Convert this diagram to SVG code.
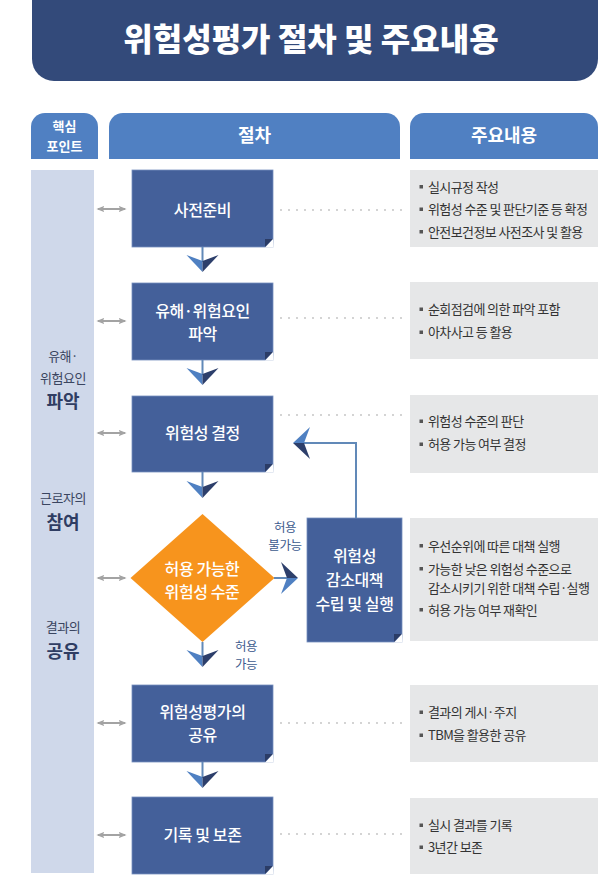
<svg xmlns="http://www.w3.org/2000/svg" width="613" height="888" viewBox="0 0 613 888">
<style>
text{font-family:"Noto Sans CJK KR","Noto Sans",sans-serif}
.title{fill:#fff;font-size:32px;font-weight:900;letter-spacing:0px;text-anchor:middle}
.hdr{fill:#fff;font-weight:700;text-anchor:middle}
.box{fill:#44609a;stroke:#7790bf;stroke-width:0.8}
.fold{fill:#2b3c66}
.bt{fill:#fff;font-size:16px;font-weight:500;letter-spacing:-0.4px;text-anchor:middle}
.info{fill:#e6e7e8}
.it{fill:#333;font-size:13px;letter-spacing:-0.6px}
.bul{fill:#555}
.side{fill:#3a4560;font-size:13px;text-anchor:middle;letter-spacing:-0.5px}
.sideb{fill:#2f3d63;font-size:18px;font-weight:700;text-anchor:middle}
.lbl{fill:#3d5b8e;font-size:12.5px;text-anchor:middle;letter-spacing:-0.4px}
.stem{stroke:#6189b8;stroke-width:2;fill:none}
.dots{stroke:#9a9a9a;stroke-width:1.6;stroke-linecap:round;stroke-dasharray:0 8;fill:none}
.grey{stroke:#a3a3a3;stroke-width:2;fill:none;marker-start:url(#ga);marker-end:url(#ga)}
</style>
<defs>
<marker id="ga" viewBox="0 0 10 8" refX="8" refY="4" markerWidth="4" markerHeight="3.6" orient="auto-start-reverse" markerUnits="strokeWidth">
<path d="M0,0 L10,4 L0,8 L2,4 Z" fill="#a3a3a3"/>
</marker>
<g id="ah">
<polygon points="-16,0 0,6 0,17" fill="#4f80c2"/>
<polygon points="16,0 0,6 0,17" fill="#2d3f6b"/>
</g>
</defs>

<g id="title">
<path d="M32,-30 H598 V59 A22,22 0 0 1 576,81 H54 A22,22 0 0 1 32,59 Z" fill="#334a7a"/>
<text class="title" x="311" y="51">위험성평가 절차 및 주요내용</text>
</g>

<g id="headers">
<path d="M31,159 V127 A14,14 0 0 1 45,113 H84 A14,14 0 0 1 98,127 V159 Z" fill="#5080c2"/>
<text class="hdr" x="64.5" y="131" font-size="13">핵심</text>
<text class="hdr" x="64.5" y="151" font-size="13">포인트</text>
<path d="M109,159 V127 A14,14 0 0 1 123,113 H386 A14,14 0 0 1 400,127 V159 Z" fill="#5080c2"/>
<text class="hdr" x="254.5" y="142" font-size="18">절차</text>
<path d="M410,159 V127 A14,14 0 0 1 424,113 H584 A14,14 0 0 1 598,127 V159 Z" fill="#5080c2"/>
<text class="hdr" x="504" y="142" font-size="18">주요내용</text>
</g>

<g id="keypoints">
<rect x="31" y="170" width="63" height="703" fill="#cfd8ea"/>
<text class="side" x="63" y="361">유해·</text>
<text class="side" x="63" y="383">위험요인</text>
<text class="sideb" x="63" y="408">파악</text>
<text class="side" x="63" y="503">근로자의</text>
<text class="sideb" x="63" y="529">참여</text>
<text class="side" x="63" y="632">결과의</text>
<text class="sideb" x="63" y="658">공유</text>
</g>

<g id="step1">
<rect class="box" x="132" y="170" width="141" height="77"/>
<polygon class="fold" points="265,239 273,239 265,247"/>
<polygon points="273,239 273.6,247.6 265,247.6" fill="#fff"/>
<text class="bt" x="202.5" y="216">사전준비</text>
</g>
<g id="step2">
<rect class="box" x="132" y="283" width="141" height="77"/>
<polygon class="fold" points="265,352 273,352 265,360"/>
<polygon points="273,352 273.6,360.6 265,360.6" fill="#fff"/>
<text class="bt" x="202.5" y="317">유해·위험요인</text>
<text class="bt" x="202.5" y="340">파악</text>
</g>
<g id="step3">
<rect class="box" x="132" y="396" width="141" height="76"/>
<polygon class="fold" points="265,464 273,464 265,472"/>
<polygon points="273,464 273.6,472.6 265,472.6" fill="#fff"/>
<text class="bt" x="202.5" y="439">위험성 결정</text>
</g>
<g id="decision">
<polygon points="202.5,514 274.5,578 202.5,642 130.5,578" fill="#f7941d"/>
<text class="bt" x="202" y="575">허용 가능한</text>
<text class="bt" x="202" y="598">위험성 수준</text>
</g>
<g id="reduce">
<rect class="box" x="307" y="518" width="95" height="124"/>
<polygon class="fold" points="394,634 402,634 394,642"/>
<polygon points="402,634 402.6,642.6 394,642.6" fill="#fff"/>
<text class="bt" x="354.5" y="562">위험성</text>
<text class="bt" x="354.5" y="586">감소대책</text>
<text class="bt" x="354.5" y="610">수립 및 실행</text>
</g>
<g id="step4">
<rect class="box" x="132" y="685" width="141" height="77"/>
<polygon class="fold" points="265,754 273,754 265,762"/>
<polygon points="273,754 273.6,762.6 265,762.6" fill="#fff"/>
<text class="bt" x="202.5" y="718">위험성평가의</text>
<text class="bt" x="202.5" y="741">공유</text>
</g>
<g id="step5">
<rect class="box" x="132" y="797" width="141" height="77"/>
<polygon class="fold" points="265,866 273,866 265,874"/>
<polygon points="273,866 273.6,874.6 265,874.6" fill="#fff"/>
<text class="bt" x="202.5" y="841">기록 및 보존</text>
</g>

<g id="info1">
<rect class="info" x="410" y="170" width="188" height="77"/>
<rect class="bul" x="419.5" y="185" width="3.5" height="3.5"/><text class="it" x="428" y="191.5">실시규정 작성</text>
<rect class="bul" x="419.5" y="207.5" width="3.5" height="3.5"/><text class="it" x="428" y="214">위험성 수준 및 판단기준 등 확정</text>
<rect class="bul" x="419.5" y="230" width="3.5" height="3.5"/><text class="it" x="428" y="236.5">안전보건정보 사전조사 및 활용</text>
</g>
<g id="info2">
<rect class="info" x="410" y="282" width="188" height="77"/>
<rect class="bul" x="419.5" y="307.5" width="3.5" height="3.5"/><text class="it" x="428" y="314">순회점검에 의한 파악 포함</text>
<rect class="bul" x="419.5" y="330.5" width="3.5" height="3.5"/><text class="it" x="428" y="337">아차사고 등 활용</text>
</g>
<g id="info3">
<rect class="info" x="410" y="395" width="188" height="78"/>
<rect class="bul" x="419.5" y="419.5" width="3.5" height="3.5"/><text class="it" x="428" y="426">위험성 수준의 판단</text>
<rect class="bul" x="419.5" y="442.5" width="3.5" height="3.5"/><text class="it" x="428" y="449">허용 가능 여부 결정</text>
</g>
<g id="info4">
<rect class="info" x="410" y="518" width="188" height="123"/>
<rect class="bul" x="419.5" y="544" width="3.5" height="3.5"/><text class="it" x="428" y="550.5">우선순위에 따른 대책 실행</text>
<rect class="bul" x="419.5" y="567" width="3.5" height="3.5"/><text class="it" x="428" y="573.5">가능한 낮은 위험성 수준으로</text>
<text class="it" x="428" y="592.5">감소시키기 위한 대책 수립·실행</text>
<rect class="bul" x="419.5" y="608" width="3.5" height="3.5"/><text class="it" x="428" y="614.5">허용 가능 여부 재확인</text>
</g>
<g id="info5">
<rect class="info" x="410" y="685" width="188" height="77"/>
<rect class="bul" x="419.5" y="710.5" width="3.5" height="3.5"/><text class="it" x="428" y="717">결과의 게시·주지</text>
<rect class="bul" x="419.5" y="733.5" width="3.5" height="3.5"/><text class="it" x="428" y="740">TBM을 활용한 공유</text>
</g>
<g id="info6">
<rect class="info" x="410" y="798" width="188" height="76"/>
<rect class="bul" x="419.5" y="823.5" width="3.5" height="3.5"/><text class="it" x="428" y="830">실시 결과를 기록</text>
<rect class="bul" x="419.5" y="845.5" width="3.5" height="3.5"/><text class="it" x="428" y="852">3년간 보존</text>
</g>

<g id="connectors">
<line class="stem" x1="202.5" y1="247" x2="202.5" y2="262"/>
<use href="#ah" x="202.5" y="255"/>
<line class="stem" x1="202.5" y1="360" x2="202.5" y2="375"/>
<use href="#ah" x="202.5" y="368"/>
<line class="stem" x1="202.5" y1="472" x2="202.5" y2="487"/>
<use href="#ah" x="202.5" y="481"/>
<line class="stem" x1="202.5" y1="642" x2="202.5" y2="657"/>
<use href="#ah" x="202.5" y="650"/>
<line class="stem" x1="202.5" y1="762" x2="202.5" y2="778"/>
<use href="#ah" x="202.5" y="771"/>
<line class="stem" x1="274" y1="578" x2="288" y2="578"/>
<use href="#ah" transform="translate(281,578) rotate(-90)"/>
<polyline class="stem" points="356,518 356,443 303,443"/>
<use href="#ah" transform="translate(310,443) rotate(90)"/>
<text class="lbl" x="285" y="532">허용</text>
<text class="lbl" x="285" y="550">불가능</text>
<text class="lbl" x="246" y="651">허용</text>
<text class="lbl" x="246" y="669">가능</text>
<line class="grey" x1="98" y1="209" x2="125" y2="209"/>
<line class="grey" x1="98" y1="321" x2="125" y2="321"/>
<line class="grey" x1="98" y1="433" x2="125" y2="433"/>
<line class="grey" x1="98" y1="578" x2="125" y2="578"/>
<line class="grey" x1="98" y1="723" x2="125" y2="723"/>
<line class="grey" x1="98" y1="835" x2="125" y2="835"/>
<line class="dots" x1="281" y1="210" x2="408" y2="210"/>
<line class="dots" x1="281" y1="318" x2="408" y2="318"/>
<line class="dots" x1="281" y1="415" x2="408" y2="415"/>
<line class="dots" x1="281" y1="723" x2="408" y2="723"/>
<line class="dots" x1="281" y1="834" x2="408" y2="834"/>
</g>
</svg>
